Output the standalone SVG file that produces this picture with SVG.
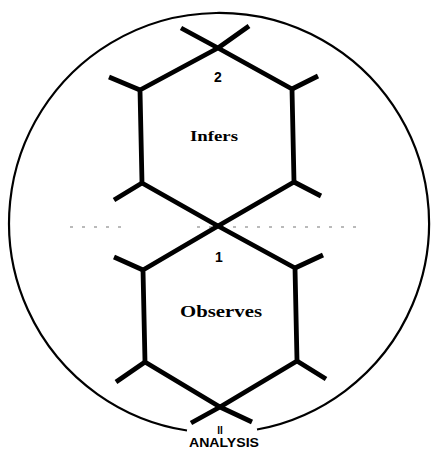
<svg xmlns="http://www.w3.org/2000/svg" width="431" height="451" viewBox="0 0 431 451">
<style>
.hex{fill:none;stroke:#000;stroke-width:4.8;stroke-linejoin:round;stroke-linecap:butt}
.stub{fill:none;stroke:#000;stroke-width:4.8;stroke-linecap:butt}
.ring{fill:none;stroke:#000;stroke-width:2.2}
.dash{stroke:#777;stroke-width:1.1;stroke-dasharray:3 9;fill:none}
.lbl{font-family:"Liberation Serif",serif;font-weight:bold;fill:#000;text-anchor:middle}
.num{font-family:"Liberation Sans",sans-serif;font-weight:bold;fill:#000;text-anchor:middle}
</style>
<rect width="431" height="451" fill="#fff"/>
<g id="circle">
<path class="ring" d="M187,430.5 A210,210 0 1 1 257,429.5"/>
</g>
<g id="connectors">
<path class="dash" d="M70,227 H122 M197,227 H357"/>
</g>
<g id="node-infers">
<polygon class="hex" points="218,48 292,89 294,182 218,226 142,183 140,90"/>
<path class="stub" d="M218,48 L181,28 M218,48 L249,26 M140,90 L109,77 M292,89 L318,76 M142,183 L114,200 M294,182 L321,196"/>
<text class="num" x="218" y="82" font-size="14">2</text>
<text class="lbl" x="214" y="141" font-size="15" textLength="48" lengthAdjust="spacingAndGlyphs">Infers</text>
</g>
<g id="node-observes">
<polygon class="hex" points="218,226 295,268 297,361 220,407 145,362 143,270"/>
<path class="stub" d="M143,270 L114,257 M295,268 L323,255 M145,362 L116,382 M297,361 L326,379 M220,407 L191,423 M220,407 L252,422"/>
<text class="num" x="219" y="262" font-size="14">1</text>
<text class="lbl" x="221" y="317" font-size="17" textLength="82" lengthAdjust="spacingAndGlyphs">Observes</text>
</g>
<g id="label-analysis">
<text class="num" x="220" y="434" font-size="10">II</text>
<text class="num" x="224" y="447" font-size="12" textLength="70" lengthAdjust="spacingAndGlyphs">ANALYSIS</text>
</g>
</svg>
